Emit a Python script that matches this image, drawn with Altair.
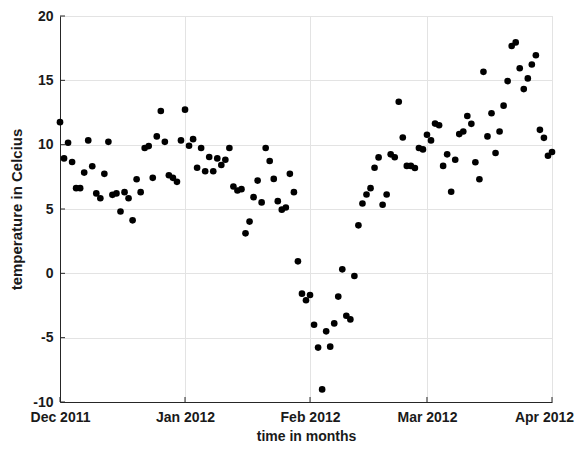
import altair as alt
import pandas as pd

# Daily temperatures, 1 Dec 2011 .. 1 Apr 2012
start_date = "2011-12-01"
temps = [
    11.75, 8.93, 10.15, 8.65, 6.62, 6.62, 7.83, 10.33, 8.32, 6.21,
    5.84, 7.73, 10.22, 6.10, 6.21, 4.81, 6.31, 5.84, 4.12, 7.31,
    6.31, 9.74, 9.89, 7.42, 10.64, 12.62, 10.22, 7.62, 7.42, 7.11,
    10.33, 12.72, 9.92, 10.43, 8.21, 9.74, 7.93, 9.04, 7.93, 8.93,
    8.42, 8.83, 9.74, 6.75, 6.44, 6.54, 3.11, 4.02, 5.92, 7.21,
    5.51, 9.74, 8.73, 7.34, 5.61, 4.95, 5.12, 7.73, 6.31, 0.93,
    -1.58, -2.09, -1.68, -4.00, -5.77, -9.02, -4.51, -5.70, -3.89, -1.81,
    0.31, -3.30, -3.58, -0.21, 3.73, 5.43, 6.13, 6.62, 8.21, 9.01,
    5.33, 6.13, 9.25, 9.02, 13.34, 10.56, 8.35, 8.35, 8.19, 9.74,
    9.63, 10.77, 10.33, 11.64, 11.51, 8.35, 9.25, 6.34, 8.83, 10.82,
    11.02, 12.23, 11.62, 8.63, 7.31, 15.66, 10.64, 12.44, 9.35, 11.02,
    13.03, 14.94, 17.67, 17.95, 15.94, 14.32, 15.15, 16.23, 16.95, 11.15,
    10.53, 9.14, 9.43,
]
month_ticks = ["2011-12-01", "2012-01-01", "2012-02-01", "2012-03-01", "2012-04-01"]
y_ticks = [-10, -5, 0, 5, 10, 15, 20]

dates = pd.date_range(start_date, periods=len(temps), freq="D").strftime("%Y-%m-%d")
df = pd.DataFrame({"date": list(dates), "temp": temps})
df_xt = pd.DataFrame({"date": month_ticks})
df_yt = pd.DataFrame({"v": y_ticks})

def dt(s):
    y, m, d = (int(p) for p in s.split("-"))
    return alt.DateTime(year=y, month=m, date=d, utc=True)

x_scale = alt.Scale(type="utc", domain=[dt(month_ticks[0]), dt(month_ticks[-1])], nice=False)
y_scale = alt.Scale(domain=[-10, 20], nice=False, zero=False)

FONT = "Liberation Sans"
DARK = "#262626"
TXT = "#1a1a1a"
W, H = 492, 386

points = alt.Chart(df).mark_circle(size=44, color="black", opacity=1).encode(
    x=alt.X(
        "date:T",
        scale=x_scale,
        axis=alt.Axis(
            values=[dt(s) for s in month_ticks],
            format="%b %Y",
            title="time in months",
            grid=True,
            gridColor="#e3e3e3",
            domainColor=DARK,
            ticks=False,
            labelPadding=8,
            labelOffset={"condition": {"test": "datum.index === 1", "value": -8}, "value": 0},
            labelFont=FONT,
            labelFontWeight="bold",
            labelFontSize=14,
            labelColor=TXT,
            labelFlush=False,
            labelOverlap=False,
            titleFont=FONT,
            titleFontWeight="bold",
            titleFontSize=14,
            titleColor=TXT,
            titleX=W / 2,
            titleY=38,
            titleBaseline="alphabetic",
            titleAlign="center",
        ),
    ),
    y=alt.Y(
        "temp:Q",
        scale=y_scale,
        axis=alt.Axis(
            values=y_ticks,
            labelExpr="'' + datum.value",
            title="temperature in Celcius",
            grid=True,
            gridColor="#e3e3e3",
            domainColor=DARK,
            ticks=False,
            labelPadding=7,
            labelFont=FONT,
            labelFontWeight="bold",
            labelFontSize=14,
            labelColor=TXT,
            labelOverlap=False,
            titleFont=FONT,
            titleFontWeight="bold",
            titleFontSize=15,
            titleColor=TXT,
            titleAngle=270,
            titleX=-39,
            titleY=H / 2,
            titleBaseline="alphabetic",
            titleAlign="center",
        ),
    ),
)

xticks = alt.Chart(df_xt).mark_rule(color=DARK, strokeWidth=1).encode(
    x=alt.X("date:T", scale=x_scale, axis=None),
    y=alt.value(H),
    y2=alt.value(H - 5),
)

yticks = alt.Chart(df_yt).mark_rule(color=DARK, strokeWidth=1).encode(
    y=alt.Y("v:Q", scale=y_scale, axis=None),
    x=alt.value(0),
    x2=alt.value(5),
)

chart = (
    alt.layer(points, xticks, yticks)
    .resolve_axis(x="independent", y="independent")
    .properties(
        width=W,
        height=H,
        autosize=alt.AutoSizeParams(type="none"),
        padding={"left": 52, "top": 8, "right": 22, "bottom": 435 - 8 - H},
    )
    .configure_view(stroke=None)
    .configure(background="white")
)

chart.save("out.html", embed_options={"renderer": "svg", "actions": False})
